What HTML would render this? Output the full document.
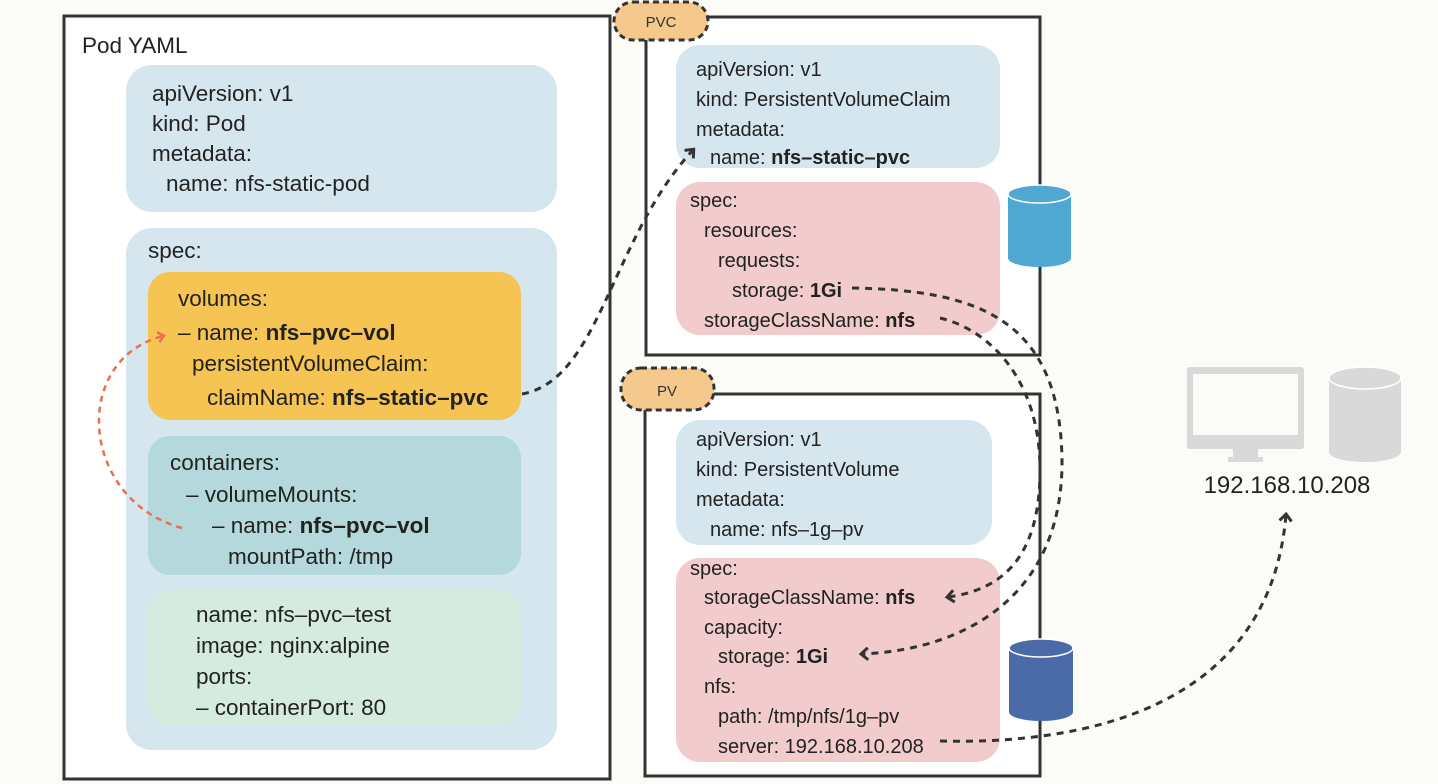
<!DOCTYPE html>
<html><head><meta charset="utf-8"><style>
body{margin:0;background:#fbfbf8;}
svg{display:block;font-family:"Liberation Sans",sans-serif;}
.t{font-size:22.5px;fill:#222}
.s{font-size:20px;fill:#222}
</style></head><body>
<svg width="1438" height="784" viewBox="0 0 1438 784">
<defs>
<marker id="a" markerWidth="14" markerHeight="14" refX="7" refY="7" orient="auto" markerUnits="userSpaceOnUse"><path d="M1,1 L8,7 L1,13" fill="none" stroke="#333" stroke-width="3"/></marker>
<marker id="o" markerWidth="12" markerHeight="12" refX="6" refY="6" orient="auto" markerUnits="userSpaceOnUse"><path d="M1,1 L7,6 L1,11" fill="none" stroke="#e8704e" stroke-width="2.5"/></marker>
</defs>
<rect width="1438" height="784" fill="#fbfbf8"/>
<rect x="64" y="16" width="546" height="763" fill="#fff" stroke="#333" stroke-width="3"/>
<text x="82" y="53" class="t">Pod YAML</text>
<rect x="126" y="65" width="431" height="147" rx="26" fill="#d5e6ee"/>
<text class="t"><tspan x="152" y="101">apiVersion: v1</tspan><tspan x="152" y="131">kind: Pod</tspan><tspan x="152" y="161">metadata:</tspan><tspan x="166" y="191">name: nfs-static-pod</tspan></text>
<rect x="126" y="228" width="431" height="522" rx="26" fill="#d5e6ee"/>
<text x="148" y="258" class="t">spec:</text>
<rect x="148" y="272" width="373" height="148" rx="22" fill="#f5c453"/>
<text class="t"><tspan x="178" y="306">volumes:</tspan><tspan x="178" y="340">– name: <tspan font-weight="bold">nfs–pvc–vol</tspan></tspan><tspan x="192" y="371">persistentVolumeClaim:</tspan><tspan x="207" y="405">claimName: <tspan font-weight="bold">nfs–static–pvc</tspan></tspan></text>
<rect x="148" y="436" width="373" height="139" rx="22" fill="#b5d8dc"/>
<text class="t"><tspan x="170" y="470">containers:</tspan><tspan x="186" y="502">– volumeMounts:</tspan><tspan x="212" y="533">– name: <tspan font-weight="bold">nfs–pvc–vol</tspan></tspan><tspan x="228" y="564">mountPath: /tmp</tspan></text>
<rect x="148" y="590" width="373" height="135" rx="22" fill="#d6ebe0"/>
<text class="t"><tspan x="196" y="622">name: nfs–pvc–test</tspan><tspan x="196" y="653">image: nginx:alpine</tspan><tspan x="196" y="684">ports:</tspan><tspan x="196" y="715">– containerPort: 80</tspan></text>
<rect x="646" y="17" width="394" height="338" fill="#fff" stroke="#333" stroke-width="3"/>
<rect x="614" y="2" width="94" height="38" rx="19" fill="#f5c98d" stroke="#333" stroke-width="3" stroke-dasharray="6,4"/>
<text x="661" y="27" font-size="15" text-anchor="middle" fill="#333">PVC</text>
<rect x="676" y="45" width="324" height="123" rx="24" fill="#d5e6ee"/>
<text class="s"><tspan x="696" y="76">apiVersion: v1</tspan><tspan x="696" y="106">kind: PersistentVolumeClaim</tspan><tspan x="696" y="136">metadata:</tspan><tspan x="710" y="164">name: <tspan font-weight="bold">nfs–static–pvc</tspan></tspan></text>
<rect x="676" y="182" width="324" height="153" rx="24" fill="#f2cccc"/>
<text class="s"><tspan x="690" y="207">spec:</tspan><tspan x="704" y="237">resources:</tspan><tspan x="718" y="267">requests:</tspan><tspan x="732" y="297">storage: <tspan font-weight="bold">1Gi</tspan></tspan><tspan x="704" y="327">storageClassName: <tspan font-weight="bold">nfs</tspan></tspan></text>
<rect x="1008" y="194" width="63" height="64" fill="#4fa8d2"/>
<ellipse cx="1039.5" cy="258" rx="31.5" ry="9" fill="#4fa8d2"/>
<ellipse cx="1039.5" cy="194" rx="31.5" ry="9" fill="#4fa8d2" stroke="#fff" stroke-width="1.5"/>
<rect x="645" y="394" width="395" height="382" fill="#fff" stroke="#333" stroke-width="3"/>
<rect x="621" y="368" width="93" height="42" rx="20" fill="#f5c98d" stroke="#333" stroke-width="3" stroke-dasharray="6,4"/>
<text x="667" y="396" font-size="15" text-anchor="middle" fill="#333">PV</text>
<rect x="676" y="420" width="316" height="125" rx="24" fill="#d5e6ee"/>
<text class="s"><tspan x="696" y="446">apiVersion: v1</tspan><tspan x="696" y="476">kind: PersistentVolume</tspan><tspan x="696" y="506">metadata:</tspan><tspan x="710" y="536">name: nfs–1g–pv</tspan></text>
<rect x="676" y="558" width="324" height="204" rx="24" fill="#f2cccc"/>
<text class="s"><tspan x="690" y="575">spec:</tspan><tspan x="704" y="604">storageClassName: <tspan font-weight="bold">nfs</tspan></tspan><tspan x="704" y="634">capacity:</tspan><tspan x="718" y="663">storage: <tspan font-weight="bold">1Gi</tspan></tspan><tspan x="704" y="693">nfs:</tspan><tspan x="718" y="723">path: /tmp/nfs/1g–pv</tspan><tspan x="718" y="753">server: 192.168.10.208</tspan></text>
<rect x="1009" y="648" width="64" height="64" fill="#4a6aa8"/>
<ellipse cx="1041" cy="712" rx="32" ry="9" fill="#4a6aa8"/>
<ellipse cx="1041" cy="648" rx="32" ry="9" fill="#4a6aa8" stroke="#fff" stroke-width="1.5"/>
<rect x="1187" y="367" width="117" height="82" rx="3" fill="#d9d9d9"/>
<rect x="1193" y="374" width="105" height="61" fill="#fbfbf8"/>
<rect x="1233" y="449" width="25" height="8" fill="#d9d9d9"/>
<rect x="1228" y="457" width="35" height="5" fill="#d9d9d9"/>
<rect x="1329" y="378" width="72" height="74" fill="#d9d9d9"/>
<ellipse cx="1365" cy="452" rx="36" ry="10" fill="#d9d9d9"/>
<ellipse cx="1365" cy="378" rx="36" ry="11" fill="#d9d9d9" stroke="#fff" stroke-width="1.5"/>
<text x="1287" y="493" font-size="24" text-anchor="middle" fill="#222">192.168.10.208</text>
<g fill="none" stroke="#333" stroke-width="3" stroke-dasharray="7,6">
<path d="M522,394 C600,380 610,240 693,150" marker-end="url(#a)"/>
<path d="M852,288 C980,290 1060,320 1062,460 C1063,600 960,650 862,654" marker-end="url(#a)"/>
<path d="M940,318 C990,330 1040,380 1040,470 C1040,560 1000,590 948,597" marker-end="url(#a)"/>
<path d="M940,741 C1100,745 1270,700 1286,515" marker-end="url(#a)"/>
</g>
<path d="M182,528 C80,500 70,360 163,336" fill="none" stroke="#e8704e" stroke-width="2.5" stroke-dasharray="6,5" marker-end="url(#o)"/>
</svg>
</body></html>
